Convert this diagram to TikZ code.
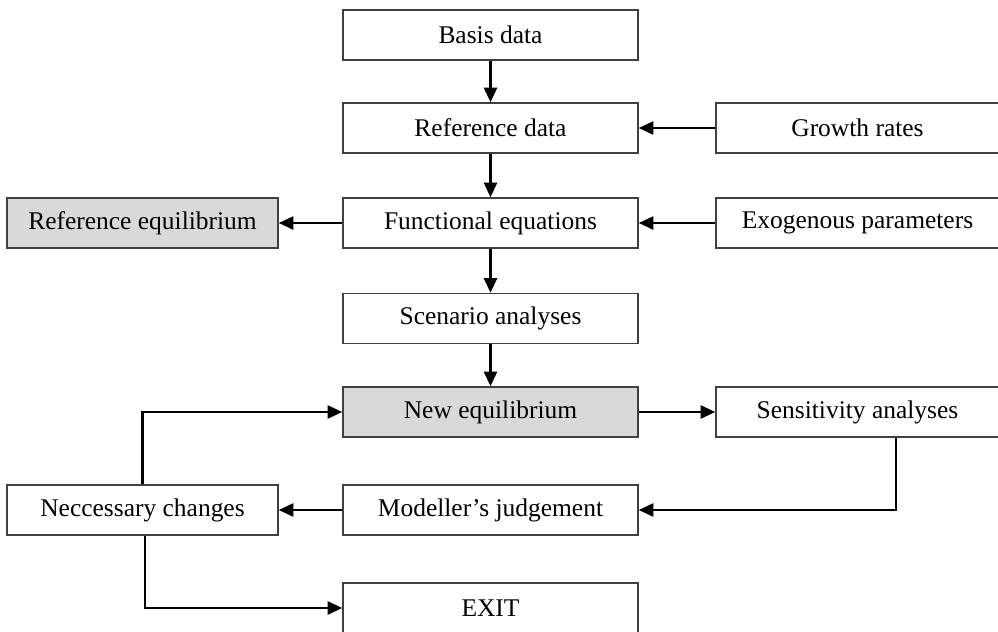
\documentclass[tikz,border=0pt]{standalone}
\usepackage{fontspec}
\setmainfont{Liberation Serif}
\usepackage{tikz}
\usetikzlibrary{arrows.meta}

\begin{document}
\begin{tikzpicture}[x=0.02cm,y=-0.02cm,>={Triangle[length=2.9mm,width=2.6mm]},
  font=\fontsize{14.5}{17}\selectfont,
  box/.style={draw=black!75,line width=0.9pt,fill=white,minimum height=1cm,inner sep=0pt},
  mid/.style={box,minimum width=5.9cm},
  side/.style={box,minimum width=5.66cm},
  wide/.style={box,minimum width=5.42cm},
  eq/.style={fill=black!15},
  flow/.style={->,line width=1.3pt}]
\useasboundingbox (0,0) rectangle (998,632);
\node[mid] (basis) at (490.5,35) {Basis data};
\node[mid] (refdata) at (490.5,128) {Reference data};
\node[side] (growth) at (857.5,128) {Growth rates};
\node[mid] (funeq) at (490.5,223) {Functional equations};
\node[wide,eq] (refeq) at (142.5,223) {Reference equilibrium};
\node[side] (exog) at (857.5,223) {Exogenous parameters};
\node[mid] (scen) at (490.5,318.5) {Scenario analyses};
\node[mid,eq] (neweq) at (490.5,412) {New equilibrium};
\node[side] (sens) at (857.5,412) {Sensitivity analyses};
\node[mid] (judge) at (490.5,510) {Modeller's judgement};
\node[wide] (changes) at (142.5,510) {Neccessary changes};
\node[mid] (exit) at (490.5,608) {EXIT};
\draw[flow] (basis) -- (refdata);
\draw[flow] (growth) -- (refdata);
\draw[flow] (refdata) -- (funeq);
\draw[flow] (funeq) -- (refeq);
\draw[flow] (exog) -- (funeq);
\draw[flow] (funeq) -- (scen);
\draw[flow] (scen) -- (neweq);
\draw[flow] (neweq) -- (sens);
\draw[flow] ([xshift=0.77cm]sens.south) |- (judge);
\draw[flow] (judge) -- (changes);
\draw[flow] (changes.north) |- (neweq);
\draw[flow] ([xshift=0.05cm]changes.south) |- (exit);
\end{tikzpicture}
\end{document}
